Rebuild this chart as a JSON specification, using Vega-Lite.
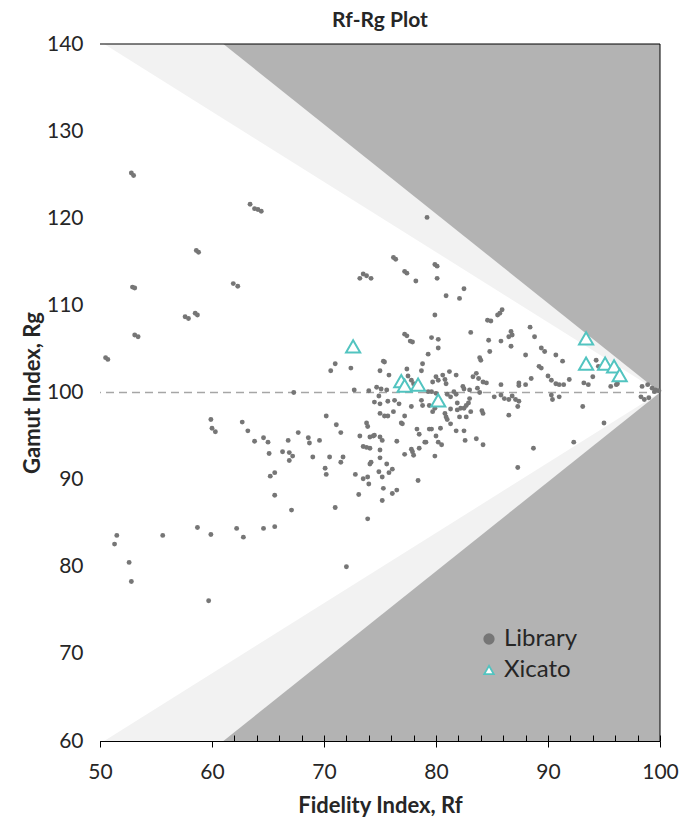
{
"$schema": "https://vega.github.io/schema/vega-lite/v6.json",
"width": 560, "height": 697,
"autosize": {"type": "none"},
"padding": {"left": 100, "top": 44, "right": 22, "bottom": 80},
"background": "white",
"config": {
  "view": {"fill": "#b3b3b3", "stroke": null},
  "font": "Lato",
  "axis": {"zindex": 1, "grid": false, "domainColor": "#000", "tickColor": "#000", "labelColor": "#262626", "titleColor": "#262626", "labelFont": "Lato", "titleFont": "Lato", "labelFlush": false},
  "legend": {"orient": "none", "legendX": 377, "legendY": 583, "labelFontSize": 24, "labelFont": "Lato", "labelColor": "#262626", "symbolSize": 90, "symbolStrokeWidth": 1.8, "rowPadding": 7, "labelOffset": 3, "fillColor": null, "padding": 0}
},
"title": {"text": "Rf-Rg Plot", "fontSize": 21, "fontWeight": "bold", "font": "Lato", "color": "#262626", "offset": 2},
"datasets": {
 "light": [{"Rf": 50, "lo": 48.7, "hi": 151.3}, {"Rf": 100, "lo": 100, "hi": 100}],
 "white": [{"Rf": 50, "lo": 59.7, "hi": 140.3}, {"Rf": 100, "lo": 100, "hi": 100}],
 "ref": [{"Rg": 100}],
 "frame": [{"Rf": 100, "Rg": 140}],
 "pts": [
{"Rf":52.8,"Rg":125.2,"series":"Library"},{"Rf":53.0,"Rg":124.9,"series":"Library"},
{"Rf":63.4,"Rg":121.6,"series":"Library"},{"Rf":63.8,"Rg":121.1,"series":"Library"},{"Rf":64.1,"Rg":121.0,"series":"Library"},{"Rf":64.4,"Rg":120.8,"series":"Library"},
{"Rf":58.6,"Rg":116.3,"series":"Library"},{"Rf":58.8,"Rg":116.1,"series":"Library"},
{"Rf":52.9,"Rg":112.1,"series":"Library"},{"Rf":53.1,"Rg":112.0,"series":"Library"},
{"Rf":61.9,"Rg":112.5,"series":"Library"},{"Rf":62.3,"Rg":112.2,"series":"Library"},
{"Rf":57.6,"Rg":108.7,"series":"Library"},{"Rf":57.9,"Rg":108.5,"series":"Library"},{"Rf":58.5,"Rg":109.1,"series":"Library"},{"Rf":58.7,"Rg":108.9,"series":"Library"},
{"Rf":53.1,"Rg":106.6,"series":"Library"},{"Rf":53.4,"Rg":106.4,"series":"Library"},
{"Rf":50.5,"Rg":104.0,"series":"Library"},{"Rf":50.7,"Rg":103.8,"series":"Library"},
{"Rf":67.3,"Rg":100.0,"series":"Library"},
{"Rf":59.9,"Rg":96.9,"series":"Library"},{"Rf":60.0,"Rg":95.9,"series":"Library"},{"Rf":60.3,"Rg":95.5,"series":"Library"},
{"Rf":62.7,"Rg":96.6,"series":"Library"},{"Rf":63.2,"Rg":95.6,"series":"Library"},
{"Rf":63.8,"Rg":94.4,"series":"Library"},{"Rf":64.6,"Rg":94.8,"series":"Library"},{"Rf":65.0,"Rg":94.3,"series":"Library"},{"Rf":65.1,"Rg":93.0,"series":"Library"},
{"Rf":66.3,"Rg":93.2,"series":"Library"},{"Rf":66.8,"Rg":94.5,"series":"Library"},{"Rf":66.9,"Rg":93.1,"series":"Library"},{"Rf":67.2,"Rg":92.7,"series":"Library"},{"Rf":66.9,"Rg":92.2,"series":"Library"},
{"Rf":67.7,"Rg":95.4,"series":"Library"},
{"Rf":65.2,"Rg":90.4,"series":"Library"},{"Rf":65.6,"Rg":90.8,"series":"Library"},
{"Rf":65.6,"Rg":88.2,"series":"Library"},
{"Rf":67.1,"Rg":86.5,"series":"Library"},
{"Rf":58.7,"Rg":84.5,"series":"Library"},
{"Rf":59.9,"Rg":83.7,"series":"Library"},
{"Rf":62.2,"Rg":84.4,"series":"Library"},{"Rf":62.8,"Rg":83.4,"series":"Library"},
{"Rf":64.6,"Rg":84.4,"series":"Library"},{"Rf":65.6,"Rg":84.6,"series":"Library"},
{"Rf":55.6,"Rg":83.6,"series":"Library"},
{"Rf":51.5,"Rg":83.6,"series":"Library"},{"Rf":51.3,"Rg":82.6,"series":"Library"},
{"Rf":52.6,"Rg":80.5,"series":"Library"},{"Rf":52.8,"Rg":78.3,"series":"Library"},
{"Rf":59.7,"Rg":76.1,"series":"Library"},
{"Rf":72.0,"Rg":80.0,"series":"Library"},
{"Rf":79.2,"Rg":120.1,"series":"Library"},
{"Rf":76.2,"Rg":115.5,"series":"Library"},{"Rf":76.4,"Rg":115.3,"series":"Library"},
{"Rf":79.9,"Rg":114.7,"series":"Library"},{"Rf":80.1,"Rg":114.5,"series":"Library"},
{"Rf":73.2,"Rg":113.1,"series":"Library"},{"Rf":73.5,"Rg":113.6,"series":"Library"},{"Rf":73.8,"Rg":113.4,"series":"Library"},{"Rf":74.2,"Rg":113.1,"series":"Library"},
{"Rf":77.2,"Rg":113.9,"series":"Library"},{"Rf":77.4,"Rg":113.7,"series":"Library"},
{"Rf":78.2,"Rg":112.8,"series":"Library"},
{"Rf":80.1,"Rg":113.1,"series":"Library"},
{"Rf":82.5,"Rg":111.9,"series":"Library"},
{"Rf":80.9,"Rg":111.1,"series":"Library"},{"Rf":82.1,"Rg":110.8,"series":"Library"},
{"Rf":79.9,"Rg":108.9,"series":"Library"},
{"Rf":84.6,"Rg":108.3,"series":"Library"},{"Rf":84.9,"Rg":108.2,"series":"Library"},
{"Rf":83.1,"Rg":106.9,"series":"Library"},
{"Rf":77.2,"Rg":106.7,"series":"Library"},{"Rf":77.4,"Rg":106.5,"series":"Library"},
{"Rf":77.7,"Rg":105.9,"series":"Library"},{"Rf":77.9,"Rg":105.8,"series":"Library"},
{"Rf":79.6,"Rg":106.3,"series":"Library"},{"Rf":80.2,"Rg":106.1,"series":"Library"},
{"Rf":80.2,"Rg":105.1,"series":"Library"},
{"Rf":79.3,"Rg":104.4,"series":"Library"},
{"Rf":71.0,"Rg":103.3,"series":"Library"},{"Rf":70.6,"Rg":102.5,"series":"Library"},
{"Rf":72.4,"Rg":102.8,"series":"Library"},
{"Rf":75.3,"Rg":103.6,"series":"Library"},{"Rf":75.4,"Rg":103.5,"series":"Library"},
{"Rf":75.0,"Rg":102.5,"series":"Library"},
{"Rf":75.8,"Rg":102.0,"series":"Library"},
{"Rf":77.4,"Rg":102.7,"series":"Library"},
{"Rf":78.8,"Rg":103.3,"series":"Library"},{"Rf":78.7,"Rg":102.5,"series":"Library"},
{"Rf":77.5,"Rg":101.9,"series":"Library"},
{"Rf":77.8,"Rg":101.4,"series":"Library"},{"Rf":78.0,"Rg":101.0,"series":"Library"},
{"Rf":80.0,"Rg":101.8,"series":"Library"},{"Rf":80.6,"Rg":102.0,"series":"Library"},{"Rf":81.2,"Rg":102.4,"series":"Library"},{"Rf":81.8,"Rg":102.0,"series":"Library"},
{"Rf":79.7,"Rg":101.2,"series":"Library"},{"Rf":80.2,"Rg":101.4,"series":"Library"},{"Rf":80.8,"Rg":101.5,"series":"Library"},{"Rf":80.9,"Rg":101.0,"series":"Library"},
{"Rf":83.3,"Rg":101.8,"series":"Library"},{"Rf":83.6,"Rg":102.2,"series":"Library"},{"Rf":83.8,"Rg":101.6,"series":"Library"},{"Rf":84.2,"Rg":101.2,"series":"Library"},{"Rf":84.5,"Rg":101.1,"series":"Library"},
{"Rf":72.7,"Rg":100.3,"series":"Library"},{"Rf":74.0,"Rg":100.2,"series":"Library"},{"Rf":74.7,"Rg":100.6,"series":"Library"},{"Rf":75.1,"Rg":100.4,"series":"Library"},{"Rf":75.6,"Rg":100.3,"series":"Library"},
{"Rf":74.9,"Rg":99.6,"series":"Library"},
{"Rf":74.5,"Rg":98.9,"series":"Library"},{"Rf":75.0,"Rg":98.7,"series":"Library"},
{"Rf":75.7,"Rg":99.0,"series":"Library"},{"Rf":76.3,"Rg":99.1,"series":"Library"},{"Rf":76.7,"Rg":98.7,"series":"Library"},
{"Rf":77.8,"Rg":98.4,"series":"Library"},
{"Rf":78.7,"Rg":99.1,"series":"Library"},{"Rf":78.8,"Rg":98.5,"series":"Library"},
{"Rf":79.4,"Rg":98.5,"series":"Library"},
{"Rf":79.3,"Rg":100.1,"series":"Library"},{"Rf":79.6,"Rg":100.1,"series":"Library"},{"Rf":80.0,"Rg":99.9,"series":"Library"},
{"Rf":75.0,"Rg":97.6,"series":"Library"},{"Rf":76.2,"Rg":97.8,"series":"Library"},
{"Rf":75.4,"Rg":97.3,"series":"Library"},{"Rf":75.7,"Rg":97.3,"series":"Library"},
{"Rf":77.2,"Rg":97.3,"series":"Library"},
{"Rf":85.8,"Rg":105.9,"series":"Library"},{"Rf":86.7,"Rg":105.3,"series":"Library"},{"Rf":84.7,"Rg":106.0,"series":"Library"},
{"Rf":84.8,"Rg":104.7,"series":"Library"},
{"Rf":88.0,"Rg":104.3,"series":"Library"},
{"Rf":83.9,"Rg":104.0,"series":"Library"},{"Rf":84.0,"Rg":103.7,"series":"Library"},
{"Rf":82.4,"Rg":100.7,"series":"Library"},{"Rf":82.5,"Rg":100.4,"series":"Library"},{"Rf":83.0,"Rg":100.3,"series":"Library"},
{"Rf":81.6,"Rg":100.1,"series":"Library"},{"Rf":81.8,"Rg":99.8,"series":"Library"},{"Rf":81.0,"Rg":99.8,"series":"Library"},{"Rf":81.3,"Rg":99.5,"series":"Library"},
{"Rf":83.7,"Rg":100.5,"series":"Library"},{"Rf":83.9,"Rg":100.0,"series":"Library"},
{"Rf":85.8,"Rg":100.9,"series":"Library"},{"Rf":87.4,"Rg":101.1,"series":"Library"},
{"Rf":85.2,"Rg":99.5,"series":"Library"},{"Rf":85.8,"Rg":99.7,"series":"Library"},{"Rf":86.1,"Rg":99.3,"series":"Library"},{"Rf":86.5,"Rg":99.2,"series":"Library"},
{"Rf":87.3,"Rg":98.4,"series":"Library"},{"Rf":87.4,"Rg":99.0,"series":"Library"},
{"Rf":83.0,"Rg":99.3,"series":"Library"},{"Rf":82.9,"Rg":98.8,"series":"Library"},{"Rf":82.7,"Rg":98.5,"series":"Library"},
{"Rf":81.9,"Rg":98.8,"series":"Library"},{"Rf":82.2,"Rg":98.2,"series":"Library"},
{"Rf":79.9,"Rg":98.2,"series":"Library"},{"Rf":79.7,"Rg":97.8,"series":"Library"},
{"Rf":81.3,"Rg":98.1,"series":"Library"},{"Rf":81.9,"Rg":98.0,"series":"Library"},{"Rf":82.5,"Rg":98.2,"series":"Library"},
{"Rf":84.1,"Rg":97.9,"series":"Library"},
{"Rf":80.9,"Rg":97.2,"series":"Library"},{"Rf":82.1,"Rg":97.2,"series":"Library"},{"Rf":82.7,"Rg":97.2,"series":"Library"},
{"Rf":86.5,"Rg":97.4,"series":"Library"},
{"Rf":80.8,"Rg":97.6,"series":"Library"},{"Rf":83.1,"Rg":97.8,"series":"Library"},{"Rf":84.2,"Rg":97.6,"series":"Library"},
{"Rf":73.8,"Rg":96.5,"series":"Library"},{"Rf":73.9,"Rg":96.1,"series":"Library"},
{"Rf":76.9,"Rg":96.5,"series":"Library"},{"Rf":77.0,"Rg":96.4,"series":"Library"},
{"Rf":71.5,"Rg":95.4,"series":"Library"},
{"Rf":73.2,"Rg":95.0,"series":"Library"},{"Rf":74.1,"Rg":94.9,"series":"Library"},{"Rf":74.4,"Rg":95.0,"series":"Library"},{"Rf":74.5,"Rg":95.1,"series":"Library"},
{"Rf":75.0,"Rg":94.9,"series":"Library"},{"Rf":75.2,"Rg":94.5,"series":"Library"},
{"Rf":76.5,"Rg":94.4,"series":"Library"},
{"Rf":78.3,"Rg":95.8,"series":"Library"},{"Rf":78.5,"Rg":95.2,"series":"Library"},{"Rf":79.4,"Rg":95.8,"series":"Library"},{"Rf":80.0,"Rg":95.0,"series":"Library"},{"Rf":80.2,"Rg":94.3,"series":"Library"},
{"Rf":79.0,"Rg":94.3,"series":"Library"},{"Rf":79.1,"Rg":94.3,"series":"Library"},
{"Rf":77.8,"Rg":93.5,"series":"Library"},{"Rf":77.9,"Rg":93.2,"series":"Library"},{"Rf":78.0,"Rg":92.8,"series":"Library"},{"Rf":77.2,"Rg":92.9,"series":"Library"},{"Rf":78.5,"Rg":93.6,"series":"Library"},
{"Rf":73.5,"Rg":93.8,"series":"Library"},{"Rf":73.8,"Rg":93.7,"series":"Library"},{"Rf":74.1,"Rg":93.6,"series":"Library"},
{"Rf":75.0,"Rg":93.4,"series":"Library"},
{"Rf":79.9,"Rg":92.7,"series":"Library"},
{"Rf":71.7,"Rg":92.6,"series":"Library"},{"Rf":71.5,"Rg":92.0,"series":"Library"},
{"Rf":75.0,"Rg":92.5,"series":"Library"},{"Rf":75.6,"Rg":91.8,"series":"Library"},
{"Rf":74.2,"Rg":92.0,"series":"Library"},{"Rf":74.1,"Rg":91.8,"series":"Library"},
{"Rf":74.9,"Rg":90.9,"series":"Library"},{"Rf":75.8,"Rg":90.8,"series":"Library"},{"Rf":76.1,"Rg":91.2,"series":"Library"},
{"Rf":72.8,"Rg":90.6,"series":"Library"},
{"Rf":73.5,"Rg":90.1,"series":"Library"},{"Rf":73.9,"Rg":90.3,"series":"Library"},
{"Rf":75.2,"Rg":90.3,"series":"Library"},
{"Rf":74.0,"Rg":89.5,"series":"Library"},
{"Rf":75.3,"Rg":89.0,"series":"Library"},
{"Rf":78.4,"Rg":89.9,"series":"Library"},
{"Rf":76.5,"Rg":88.8,"series":"Library"},{"Rf":76.1,"Rg":88.4,"series":"Library"},
{"Rf":73.1,"Rg":88.3,"series":"Library"},
{"Rf":75.2,"Rg":87.6,"series":"Library"},
{"Rf":73.9,"Rg":85.5,"series":"Library"},
{"Rf":81.0,"Rg":96.9,"series":"Library"},{"Rf":81.3,"Rg":96.4,"series":"Library"},
{"Rf":79.6,"Rg":95.8,"series":"Library"},{"Rf":80.4,"Rg":95.9,"series":"Library"},
{"Rf":81.8,"Rg":95.6,"series":"Library"},{"Rf":82.5,"Rg":95.6,"series":"Library"},
{"Rf":80.5,"Rg":94.0,"series":"Library"},
{"Rf":82.6,"Rg":94.5,"series":"Library"},{"Rf":83.6,"Rg":94.7,"series":"Library"},
{"Rf":84.2,"Rg":94.0,"series":"Library"},
{"Rf":87.3,"Rg":91.4,"series":"Library"},
{"Rf":68.6,"Rg":94.8,"series":"Library"},{"Rf":68.7,"Rg":94.2,"series":"Library"},{"Rf":69.6,"Rg":94.5,"series":"Library"},
{"Rf":69.0,"Rg":92.6,"series":"Library"},
{"Rf":70.2,"Rg":97.3,"series":"Library"},
{"Rf":71.1,"Rg":96.3,"series":"Library"},
{"Rf":70.5,"Rg":92.6,"series":"Library"},
{"Rf":70.1,"Rg":91.3,"series":"Library"},{"Rf":70.2,"Rg":90.6,"series":"Library"},
{"Rf":71.0,"Rg":86.8,"series":"Library"},
{"Rf":85.9,"Rg":109.5,"series":"Library"},{"Rf":85.5,"Rg":108.9,"series":"Library"},{"Rf":85.7,"Rg":109.1,"series":"Library"},
{"Rf":88.4,"Rg":107.5,"series":"Library"},{"Rf":88.8,"Rg":106.4,"series":"Library"},
{"Rf":86.7,"Rg":107.0,"series":"Library"},{"Rf":86.8,"Rg":106.6,"series":"Library"},{"Rf":86.5,"Rg":106.4,"series":"Library"},
{"Rf":89.4,"Rg":105.1,"series":"Library"},{"Rf":89.7,"Rg":104.7,"series":"Library"},
{"Rf":90.7,"Rg":104.3,"series":"Library"},{"Rf":91.3,"Rg":103.6,"series":"Library"},
{"Rf":89.2,"Rg":103.0,"series":"Library"},{"Rf":89.4,"Rg":102.8,"series":"Library"},
{"Rf":88.5,"Rg":101.6,"series":"Library"},{"Rf":88.0,"Rg":100.9,"series":"Library"},{"Rf":87.4,"Rg":100.8,"series":"Library"},
{"Rf":90.0,"Rg":101.9,"series":"Library"},{"Rf":90.3,"Rg":101.4,"series":"Library"},{"Rf":90.7,"Rg":101.0,"series":"Library"},{"Rf":91.0,"Rg":100.9,"series":"Library"},{"Rf":91.4,"Rg":100.9,"series":"Library"},
{"Rf":91.9,"Rg":101.5,"series":"Library"},
{"Rf":90.3,"Rg":99.7,"series":"Library"},{"Rf":90.4,"Rg":99.2,"series":"Library"},{"Rf":91.0,"Rg":99.5,"series":"Library"},
{"Rf":94.3,"Rg":103.7,"series":"Library"},{"Rf":94.5,"Rg":103.0,"series":"Library"},
{"Rf":94.0,"Rg":101.8,"series":"Library"},
{"Rf":93.2,"Rg":101.1,"series":"Library"},{"Rf":93.6,"Rg":100.9,"series":"Library"},
{"Rf":95.6,"Rg":100.7,"series":"Library"},{"Rf":96.1,"Rg":100.9,"series":"Library"},{"Rf":96.2,"Rg":101.0,"series":"Library"},
{"Rf":86.8,"Rg":99.6,"series":"Library"},{"Rf":87.1,"Rg":99.2,"series":"Library"},
{"Rf":93.1,"Rg":98.4,"series":"Library"},
{"Rf":95.0,"Rg":96.5,"series":"Library"},
{"Rf":92.3,"Rg":94.3,"series":"Library"},
{"Rf":88.7,"Rg":93.6,"series":"Library"},
{"Rf":98.4,"Rg":100.7,"series":"Library"},{"Rf":98.9,"Rg":100.9,"series":"Library"},{"Rf":99.3,"Rg":100.5,"series":"Library"},{"Rf":99.5,"Rg":100.1,"series":"Library"},{"Rf":99.6,"Rg":100.3,"series":"Library"},{"Rf":99.9,"Rg":100.2,"series":"Library"},{"Rf":98.3,"Rg":99.5,"series":"Library"},{"Rf":98.6,"Rg":99.2,"series":"Library"},{"Rf":99.0,"Rg":99.4,"series":"Library"}
 ],
 "xic": [
{"Rf":72.6,"Rg":105.3,"series":"Xicato"},{"Rf":76.9,"Rg":101.3,"series":"Xicato"},{"Rf":77.2,"Rg":100.8,"series":"Xicato"},{"Rf":78.4,"Rg":100.9,"series":"Xicato"},{"Rf":80.2,"Rg":99.1,"series":"Xicato"},{"Rf":93.4,"Rg":106.2,"series":"Xicato"},{"Rf":93.4,"Rg":103.3,"series":"Xicato"},{"Rf":95.1,"Rg":103.3,"series":"Xicato"},{"Rf":95.9,"Rg":103.0,"series":"Xicato"},{"Rf":96.4,"Rg":102.0,"series":"Xicato"}
 ]
},
"resolve": {"axis": {"x": "independent", "y": "independent"}},
"layer": [
 {
  "data": {"name": "light"},
  "mark": {"type": "area", "color": "#f2f2f2", "clip": true, "opacity": 1},
  "encoding": {
   "x": {"field": "Rf", "type": "quantitative", "scale": {"domain": [50, 100], "nice": false, "zero": false},
         "axis": {"orient": "bottom", "values": [50,52,54,56,58,60,62,64,66,68,70,72,74,76,78,80,82,84,86,88,90,92,94,96,98,100], "tickSize": -6, "labels": false, "domain": false, "title": null}},
   "y": {"field": "lo", "type": "quantitative", "scale": {"domain": [60, 140], "nice": false, "zero": false}, "axis": null},
   "y2": {"field": "hi"}
  }
 },
 {
  "data": {"name": "white"},
  "mark": {"type": "area", "color": "#ffffff", "clip": true, "opacity": 1},
  "encoding": {
   "x": {"field": "Rf", "type": "quantitative", "axis": null},
   "y": {"field": "lo", "type": "quantitative", "axis": null},
   "y2": {"field": "hi"}
  }
 },
 {
  "data": {"name": "ref"},
  "mark": {"type": "rule", "color": "#a6a6a6", "strokeWidth": 1.5, "strokeDash": [8, 5]},
  "encoding": {"y": {"field": "Rg", "type": "quantitative", "axis": null}}
 },
 {
  "data": {"name": "frame"},
  "mark": {"type": "rule", "color": "#000000", "strokeWidth": 1},
  "encoding": {"y": {"field": "Rg", "type": "quantitative", "axis": null}}
 },
 {
  "data": {"name": "frame"},
  "mark": {"type": "rule", "color": "#000000", "strokeWidth": 1},
  "encoding": {"x": {"field": "Rf", "type": "quantitative", "axis": null}}
 },
 {
  "data": {"name": "pts"},
  "mark": {"type": "point", "filled": true, "size": 24, "strokeWidth": 0, "opacity": 1},
  "encoding": {
   "x": {"field": "Rf", "type": "quantitative",
         "axis": {"orient": "bottom", "values": [50,60,70,80,90,100], "tickSize": 6, "labelFontSize": 21, "labelPadding": 14, "title": "Fidelity Index, Rf", "titleFontSize": 22, "titleFontWeight": "bold", "titlePadding": 13}},
   "y": {"field": "Rg", "type": "quantitative",
         "axis": {"orient": "left", "values": [60,62,64,66,68,70,72,74,76,78,80,82,84,86,88,90,92,94,96,98,100,102,104,106,108,110,112,114,116,118,120,122,124,126,128,130,132,134,136,138,140],
                  "labelExpr": "datum.value % 10 === 0 ? datum.label : ''", "labelOverlap": false,
                  "tickSize": -6, "labelFontSize": 21, "labelPadding": 23, "title": "Gamut Index, Rg", "titleFontSize": 22, "titleFontWeight": "bold", "titlePadding": 2}},
   "shape": {"field": "series", "type": "nominal", "scale": {"domain": ["Library", "Xicato"], "range": ["circle", "triangle-up"]}, "legend": {"title": null}},
   "fill": {"field": "series", "type": "nominal", "scale": {"domain": ["Library", "Xicato"], "range": ["#767676", "#ffffff"]}, "legend": {"title": null}},
   "stroke": {"field": "series", "type": "nominal", "scale": {"domain": ["Library", "Xicato"], "range": ["#767676", "#52c4c0"]}, "legend": {"title": null}}
  }
 },
 {
  "data": {"name": "xic"},
  "mark": {"type": "point", "filled": true, "size": 200, "strokeWidth": 2, "opacity": 1},
  "encoding": {
   "x": {"field": "Rf", "type": "quantitative", "axis": null},
   "y": {"field": "Rg", "type": "quantitative", "axis": null},
   "shape": {"field": "series", "type": "nominal", "legend": {"title": null}},
   "fill": {"field": "series", "type": "nominal", "legend": {"title": null}},
   "stroke": {"field": "series", "type": "nominal", "legend": {"title": null}}
  }
 }
]
}
